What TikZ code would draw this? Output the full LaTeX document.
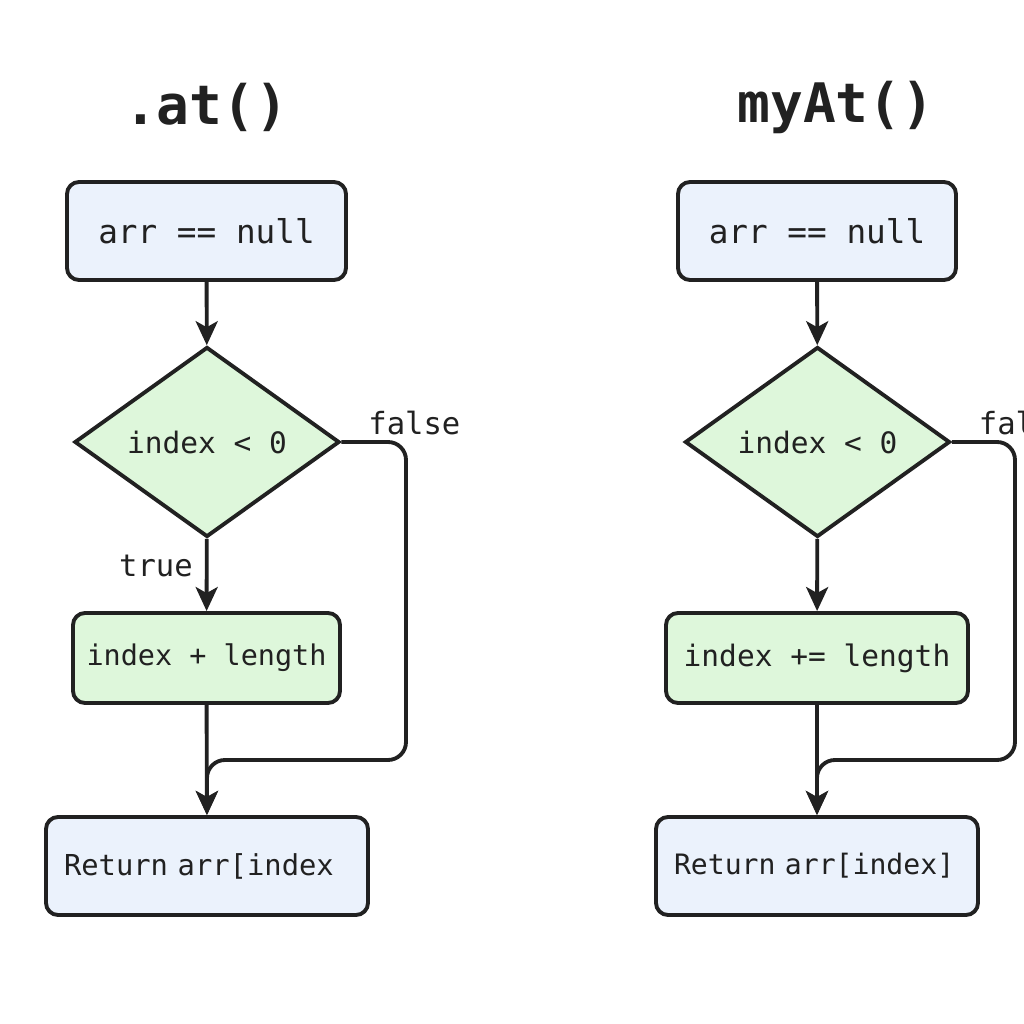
\documentclass[tikz,border=0pt]{standalone}
\usepackage{fontspec}
\setmainfont{DejaVu Sans Mono}
\usepackage{tikz}
\usetikzlibrary{arrows.meta}
\usetikzlibrary{shapes.geometric}
\definecolor{mblue}{rgb}{0.92, 0.95, 0.99}
\definecolor{mgreen}{rgb}{0.87, 0.97, 0.86}
\definecolor{mline}{rgb}{0.13, 0.13, 0.13}
\tikzset{
  box/.style={draw=mline, line width=1.1pt, rounded corners=0.12cm, minimum height=0.98cm, inner sep=0pt, text=mline},
  decision/.style={diamond, draw=mline, fill=mgreen, line width=1.1pt, inner sep=0pt, minimum width=2.65cm, minimum height=1.9cm, text=mline},
  retbox/.style={box, fill=mblue, text width=2.86cm, align=left, inner xsep=0.18cm},
  flow/.style={draw=mline, line width=1.1pt, -{Stealth[length=0.24cm, width=0.22cm, inset=0.06cm]}},
  lbl/.style={font=\fontsize{8.7}{10}\selectfont, inner sep=0.05cm, text=mline},
  title/.style={font=\fontsize{15.5}{18}\selectfont\bfseries, text=mline}
}

\begin{document}
\begin{tikzpicture}
    \useasboundingbox (0, 0) rectangle (10.24, 10.24);

    % .at()
    \node [title] (t1) at (2.06, 9.17) {.at()};
    \node [box, fill=mblue, minimum width=2.79cm, font=\fontsize{9.3}{11}\selectfont] (n1) at (2.065, 7.93) {arr == null};
    \node [decision, font=\fontsize{8.4}{10}\selectfont] (d1) at (2.07, 5.82) {index < 0};
    \node [box, fill=mgreen, minimum width=2.67cm, minimum height=0.9cm, font=\fontsize{8.1}{10}\selectfont] (a1) at (2.065, 3.66) {index + length};
    \node [retbox, font=\fontsize{8.2}{10}\selectfont] (r1) at (2.07, 1.58) {Return arr[index};
    \coordinate (f1) at (4.06, 2.64);

    \draw [flow] (n1) -- (d1);
    \draw [flow] (d1) -- node [lbl, pos=0.38, left, inner sep=0.12cm] {true} (a1);
    \draw [flow] (a1) -- (r1);
    \draw [flow, rounded corners=0.18cm] (d1.east) node [lbl, anchor=south west, xshift=0.2cm] {false} -| (f1) -| (r1.north);

    % myAt()
    \node [title] (t2) at (8.36, 9.17) {myAt()};
    \node [box, fill=mblue, minimum width=2.78cm, font=\fontsize{9.3}{11}\selectfont] (n2) at (8.17, 7.93) {arr == null};
    \node [decision, font=\fontsize{8.4}{10}\selectfont] (d2) at (8.175, 5.82) {index < 0};
    \node [box, fill=mgreen, minimum width=3.02cm, minimum height=0.9cm, font=\fontsize{8.4}{10}\selectfont] (a2) at (8.17, 3.66) {index += length};
    \node [retbox, text width=2.86cm, font=\fontsize{8}{10}\selectfont] (r2) at (8.17, 1.58) {Return arr[index]};
    \coordinate (f2) at (10.15, 2.64);

    \draw [flow] (n2) -- (d2);
    \draw [flow] (d2) -- (a2);
    \draw [flow] (a2) -- (r2);
    \draw [flow, rounded corners=0.18cm] (d2.east) node [lbl, anchor=south west, xshift=0.2cm] {false} -| (f2) -| (r2.north); % cut at the edge
  \end{tikzpicture}
\end{document}
